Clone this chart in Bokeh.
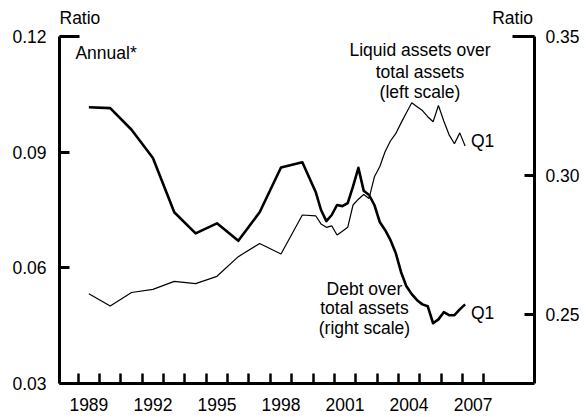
from bokeh.plotting import figure
from bokeh.models import LinearAxis, Range1d, FixedTicker, NumeralTickFormatter
from bokeh.core.properties import value
from bokeh.embed import file_html
from bokeh.resources import INLINE

# ---- data ----
annual_years = [1989, 1990, 1991, 1992, 1993, 1994, 1995, 1996, 1997, 1998, 1999]
liquid_annual = [0.0533, 0.0501, 0.0536, 0.0544, 0.0565, 0.0559, 0.0578, 0.0629, 0.0663, 0.0636, 0.0737]
debt_annual = [0.3245, 0.3242, 0.3164, 0.3062, 0.2867, 0.2791, 0.2827, 0.2764, 0.2867, 0.3028, 0.3047]

quarters = ["2000Q1", "2000Q2", "2000Q3", "2000Q4", "2001Q1", "2001Q2", "2001Q3", "2001Q4",
            "2002Q1", "2002Q2", "2002Q3", "2002Q4", "2003Q1", "2003Q2", "2003Q3", "2003Q4",
            "2004Q1", "2004Q2", "2004Q3", "2004Q4", "2005Q1", "2005Q2", "2005Q3", "2005Q4",
            "2006Q1", "2006Q2", "2006Q3", "2006Q4", "2007Q1"]
liquid_q = [0.0735, 0.0714, 0.0705, 0.0709, 0.0685, 0.0695, 0.0705, 0.0763,
            0.0778, 0.0790, 0.0780, 0.0836, 0.0862, 0.0901, 0.0929, 0.0948,
            0.0976, 0.1002, 0.1028, 0.1018, 0.1008, 0.0992, 0.0979, 0.1021,
            0.0981, 0.0945, 0.0922, 0.0950, 0.0916]
debt_q = [0.2940, 0.2875, 0.2835, 0.2857, 0.2893, 0.2889, 0.2900, 0.2960,
          0.3027, 0.2944, 0.2929, 0.2893, 0.2832, 0.2803, 0.2767, 0.2720,
          0.2651, 0.2600, 0.2572, 0.2550, 0.2535, 0.2528, 0.2467, 0.2481,
          0.2507, 0.2496, 0.2496, 0.2517, 0.2535]

xtick_years = [1989, 1992, 1995, 1998, 2001, 2004, 2007]
xtick_labels = ["1989", "1992", "1995", "1998", "2001", "2004", "2007"]
left_ticks = [0.03, 0.06, 0.09, 0.12]
right_ticks = [0.25, 0.30, 0.35]
LEFT_MIN, LEFT_MAX = 0.03, 0.12
RIGHT_MIN, RIGHT_MAX = 0.225, 0.35

# ---- positions ----
def qpos(q):
    return int(q[:4]) + (int(q[-1]) - 0.5) / 4.0

x_annual = [y + 0.5 for y in annual_years]
x_q = [qpos(q) for q in quarters]
x_all = x_annual + x_q
liquid_all = liquid_annual + liquid_q
debt_all = debt_annual + debt_q

FONT = "Liberation Sans"
FS = "17.5px"
XS, XE = 1988.124, 2010.375
W, H = 586, 417
TOP_PAD = 36          # pixels above the 0.12 / 0.35 level
BOTTOM = 34
PLOT_H = H - BOTTOM - TOP_PAD
PX_PER_YEAR = (534 - 59) / (XE - XS)

# extend the ranges upward so that the header text sits inside the frame
left_top = LEFT_MAX + TOP_PAD / PLOT_H * (LEFT_MAX - LEFT_MIN)
right_top = RIGHT_MAX + TOP_PAD / PLOT_H * (RIGHT_MAX - RIGHT_MIN)

p = figure(width=W, height=H, x_range=Range1d(XS, XE), y_range=Range1d(LEFT_MIN, left_top),
           output_backend="svg", toolbar_location=None,
           x_axis_location=None, y_axis_location=None,
           min_border_left=59, min_border_right=52, min_border_top=0, min_border_bottom=BOTTOM)
p.extra_y_ranges = {"right": Range1d(RIGHT_MIN, right_top)}
p.outline_line_color = None
p.xgrid.visible = False
p.ygrid.visible = False
p.background_fill_color = "white"

# bottom axis
xt = FixedTicker(ticks=[y + 0.5 for y in xtick_years], minor_ticks=list(range(1989, 2009)))
xaxis = LinearAxis(ticker=xt)
xaxis.major_label_overrides = {y + 0.5: lab for y, lab in zip(xtick_years, xtick_labels)}
xaxis.axis_line_width = 3
xaxis.major_tick_in = 0
xaxis.major_tick_out = 0
xaxis.minor_tick_in = 10
xaxis.minor_tick_out = 0
xaxis.minor_tick_line_width = 2.5
xaxis.major_label_standoff = 14
xaxis.major_label_text_font = FONT
xaxis.major_label_text_font_size = FS
xaxis.major_label_text_color = "black"
p.add_layout(xaxis, "below")

# left axis
laxis = LinearAxis(ticker=FixedTicker(ticks=left_ticks, minor_ticks=[]),
                   formatter=NumeralTickFormatter(format="0.00"), bounds=(LEFT_MIN, LEFT_MAX))
laxis.axis_line_width = 3
laxis.major_tick_in = 10
laxis.major_tick_out = 0
laxis.major_tick_line_width = 3
laxis.major_label_standoff = 13
laxis.major_label_text_font = FONT
laxis.major_label_text_font_size = FS
laxis.major_label_text_color = "black"
p.add_layout(laxis, "left")

# right axis
raxis = LinearAxis(y_range_name="right", ticker=FixedTicker(ticks=right_ticks, minor_ticks=[]),
                   formatter=NumeralTickFormatter(format="0.00"), bounds=(RIGHT_MIN, RIGHT_MAX))
raxis.axis_line_width = 3
raxis.major_tick_in = 10
raxis.major_tick_out = 0
raxis.major_tick_line_width = 3
raxis.major_label_standoff = 11
raxis.major_label_text_font = FONT
raxis.major_label_text_font_size = FS
raxis.major_label_text_color = "black"
p.add_layout(raxis, "right")

# longer top ticks
p.segment(x0=[XS], x1=[XS + 20 / PX_PER_YEAR], y0=[LEFT_MAX], y1=[LEFT_MAX],
          line_width=3, line_color="black")
p.segment(x0=[XE - 22 / PX_PER_YEAR], x1=[XE], y0=[RIGHT_MAX], y1=[RIGHT_MAX],
          line_width=3, line_color="black", y_range_name="right")

# series
p.line(x_all, liquid_all, line_width=1.2, line_color="black")
p.line(x_all, debt_all, line_width=2.6, line_color="black", y_range_name="right",
       line_join="round")

# texts
def txt(x, y, t, align="left"):
    p.text(x=x, y=y, text=t, text_font=value(FONT), text_font_size=FS, text_color="black",
           text_align=align, text_baseline="middle")

txt([1988.87], [0.1156], ["Annual*"])
txt([2005.01] * 3, [0.1164, 0.1108, 0.1055],
    ["Liquid assets over", "total assets", "(left scale)"], "center")
txt([2002.41] * 3, [0.0546, 0.0495, 0.0443],
    ["Debt over", "total assets", "(right scale)"], "center")
txt([2007.40, 2007.40], [0.0930, 0.0483], ["Q1", "Q1"])

# "Ratio" headers above each scale
ratio_y = LEFT_MIN + (383 - 17) / PLOT_H * (LEFT_MAX - LEFT_MIN)
txt([XS], [ratio_y], ["Ratio"], "left")
txt([XE - 1.5 / PX_PER_YEAR], [ratio_y], ["Ratio"], "right")

open("out.html", "w").write(file_html(p, INLINE))
